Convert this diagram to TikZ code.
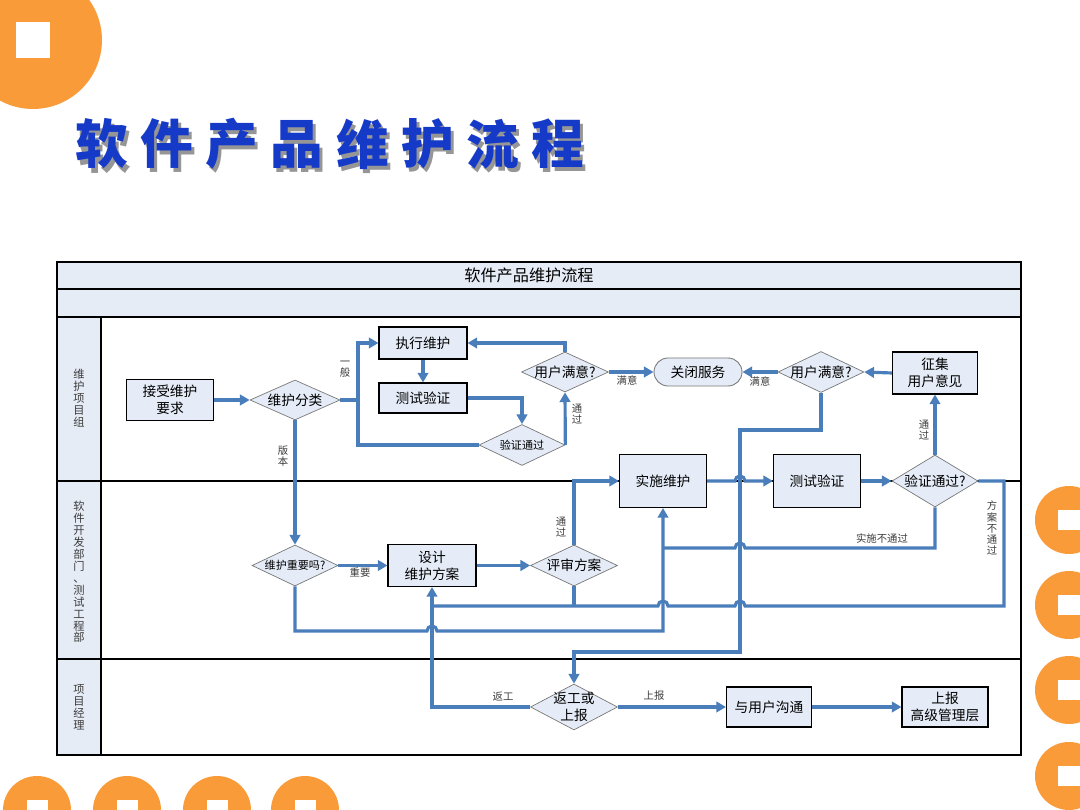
\documentclass[tikz,border=0pt]{standalone}
\usepackage{fontspec}
\setmainfont{Noto Sans CJK SC}
\usetikzlibrary{shapes.geometric,arrows.meta,calc}

\definecolor{lineblue}{RGB}{74,126,187}
\definecolor{boxfill}{RGB}{229,236,247}
\definecolor{hdrfill}{RGB}{230,236,246}
\definecolor{diagray}{RGB}{120,120,120}
\definecolor{deco}{RGB}{249,155,56}
\definecolor{titleblue}{RGB}{22,58,200}
\definecolor{titleshade}{RGB}{150,150,150}
\definecolor{labgray}{RGB}{60,60,60}

\newdimen\px \px=0.02cm

% a title glyph with its grey drop shadow, set as one piece of text
\newcommand\shadowglyph[1]{%
  \makebox[0pt][l]{\hspace*{1.7pt}\raisebox{-2.3pt}{\textcolor{titleshade}{#1}}}%
  \textcolor{titleblue}{#1}}

\tikzset{
  box/.style={draw=black, line width=0.6pt, fill=boxfill, inner sep=0pt, align=center,
    font=\fontsize{7.8}{9.6}\selectfont},
  dia/.style={diamond, draw=diagray, line width=0.4pt, fill=boxfill, inner sep=0pt},
  dtxt/.style={inner sep=0pt, align=center, font=\fontsize{7.8}{9.6}\selectfont},
  dsmall/.style={dtxt, font=\fontsize{6.3}{7.5}\selectfont},
  stadium/.style={draw=diagray, line width=0.5pt, fill=boxfill, rounded corners=0.28cm,
    inner sep=0pt, font=\fontsize{7.8}{9.6}\selectfont},
  flow/.style={draw=lineblue, line width=1.8pt},
  flowa/.style={flow, -{Triangle[length=5.5pt,width=6pt]}},
  lbl/.style={inner sep=0pt, text=labgray, font=\fontsize{5.9}{6.3}\selectfont, align=center},
  lane/.style={inner sep=0pt, text=labgray, font=\fontsize{6.4}{6.8}\selectfont, align=center},
  ttl/.style={inner sep=0pt, font=\fontsize{30}{32}\selectfont\bfseries},
}

\begin{document}
\begin{tikzpicture}[x=0.02cm,y=-0.02cm]
\useasboundingbox (0,0) rectangle (1080,810);

% orange page ornaments
\begin{scope}
  \clip (0,0) rectangle (1080,810);
  \fill[deco] (33,40) circle[radius=1.38cm];
  \fill[white] (16,22) rectangle (50,58);
  \foreach \yy in {520,605,690,776} {
    \fill[deco] (1069,\yy) circle[radius=0.68cm];
    \fill[white] (1058,\yy-10) rectangle (1080,\yy+10);
  }
  \foreach \xx in {37,127,217,305} {
    \fill[deco] (\xx,810) circle[radius=0.68cm];
    \fill[white] (\xx-10.5,800) rectangle (\xx+10.5,810);
  }
\end{scope}

% page title with drop shadow
\foreach \ch [count=\i from 0] in {软,件,产,品,维,护,流,程} {
  \node[ttl] (tt\i) at (102+65.1*\i,146) {\shadowglyph{\ch}};
}

% swim-lane table
\fill[hdrfill] (57,262) rectangle (1021,317);
\fill[hdrfill] (57,317) rectangle (101,755);
\draw[line width=0.6pt] (57,262) rectangle (1021,755);
\draw[line width=0.6pt] (57,289) -- (1021,289);
\draw[line width=0.6pt] (57,317) -- (1021,317);
\draw[line width=0.6pt] (57,481) -- (1021,481);
\draw[line width=0.6pt] (57,659) -- (1021,659);
\draw[line width=0.6pt] (101,317) -- (101,755);
\draw[line width=1.4pt] (57,755) -- (1021,755);

\node[inner sep=0pt, font=\fontsize{9.2}{10}\selectfont] (hdr) at (529,275) {软件产品维护流程};
\node[lane] (lane1) at (79,398) {维\\护\\项\\目\\组};
\node[lane] (lane2) at (79,572) {软\\件\\开\\发\\部\\门\\、\\测\\试\\工\\程\\部};
\node[lane] (lane3) at (79,707) {项\\目\\经\\理};

% lane 1
\node[box, minimum width=87\px, minimum height=41\px] (req) at (170,400) {接受维护\\要求};
\node[dia, minimum width=90\px, minimum height=40\px] (cls) at (295,400) {};
\node[dtxt] (cls-t) at (cls) {维护分类};
\node[box, minimum width=88\px, minimum height=32\px] (exe) at (423,343) {执行维护};
\node[box, minimum width=88\px, minimum height=30\px] (tst1) at (423,398) {测试验证};
\node[dia, minimum width=86\px, minimum height=41\px] (ver1) at (522,445) {};
\node[dsmall] (ver1-t) at (ver1) {验证通过};
\node[dia, minimum width=87\px, minimum height=40\px] (sat1) at (565,372) {};
\node[dtxt] (sat1-t) at (sat1) {用户满意?};
\node[stadium, minimum width=88\px, minimum height=28\px] (close) at (698,372) {关闭服务};
\node[dia, minimum width=86\px, minimum height=41\px] (sat2) at (821,372) {};
\node[dtxt] (sat2-t) at (sat2) {用户满意?};
\node[box, minimum width=85\px, minimum height=42\px] (coll) at (935,373) {征集\\用户意见};

% lane 2
\node[box, minimum width=87\px, minimum height=53\px] (impl) at (663,481) {实施维护};
\node[box, minimum width=87\px, minimum height=53\px] (tst2) at (817,481) {测试验证};
\node[dia, minimum width=86\px, minimum height=52\px] (ver2) at (935,481) {};
\node[dtxt] (ver2-t) at (ver2) {验证通过?};
\node[dia, minimum width=86\px, minimum height=41\px] (imp) at (295,565.5) {};
\node[dsmall] (imp-t) at (imp) {维护重要吗?};
\node[box, minimum width=88\px, minimum height=42\px] (des) at (432,565.5) {设计\\维护方案};
\node[dia, minimum width=87\px, minimum height=41\px] (rev) at (574,565.5) {};
\node[dtxt] (rev-t) at (rev) {评审方案};

% lane 3
\node[dia, minimum width=87\px, minimum height=46\px] (rw) at (574,707) {};
\node[dtxt] (rw-t) at (rw) {返工或\\上报};
\node[box, minimum width=85\px, minimum height=40\px] (comm) at (769,707) {与用户沟通};
\node[box, minimum width=86\px, minimum height=40\px] (rep) at (945,707) {上报\\高级管理层};

% routing points
\coordinate (gx) at (358,400);
\coordinate (va) at (740,430);
\coordinate (vb) at (740,652);
\coordinate (rx) at (1004,481);
\coordinate (yA) at (0,548);
\coordinate (yB) at (0,606);
\coordinate (yC) at (0,631);

% connectors, lane 1
\draw[flowa] (req.east) -- (cls.west);
\draw[flowa] (cls.east) -- (gx) |- (exe.west);
\draw[flow] (gx) |- (ver1.west);
\draw[flowa] (cls.south) -- (imp.north);
\draw[flowa] (exe.south) -- (tst1.north);
\draw[flowa] (tst1.east) -| (ver1.north);
\draw[flowa] (ver1.east) -- (sat1.south);
\draw[flowa] (sat1.north) |- (exe.east);
\draw[flowa] (sat1.east) -- (close.west);
\draw[flowa] (sat2.west) -- (close.east);
\draw[flowa] (coll.west) -- (sat2.east);
\draw[flowa] (ver2.north) -- (coll.south);
\draw[flowa] (sat2.south) |- (va) -- (vb) -| (rw.north);

% connectors, lane 2
\draw[flowa] (impl.east) -- ($(va|-impl.east)+(-5,0)$)
  arc[start angle=180,end angle=0,radius=0.1cm] -- (tst2.west);
\draw[flowa] (tst2.east) -- (ver2.west);
\draw[flowa] (rev.north) |- (impl.west);
\draw[flowa] (imp.east) -- (des.west);
\draw[flowa] (des.east) -- (rev.west);
\draw[flow] (ver2.south) -- (ver2.south|-yA) -- ($(va|-yA)+(5,0)$)
  arc[start angle=0,end angle=180,radius=0.1cm] -- (impl.south|-yA);
\draw[flowa] (imp.south) |- ($(des.south|-yC)+(-5,0)$)
  arc[start angle=180,end angle=0,radius=0.1cm] -| (impl.south);
\draw[flow] (ver2.east) -- (rx) |- ($(va|-yB)+(5,0)$)
  arc[start angle=0,end angle=180,radius=0.1cm] -- ($(impl.south|-yB)+(5,0)$)
  arc[start angle=0,end angle=180,radius=0.1cm] -- (des.south|-yB);
\draw[flow] (rev.south) -- (rev.south|-yB);

% connectors, lane 3
\draw[flowa] (rw.west) -| (des.south);
\draw[flowa] (rw.east) -- (comm.west);
\draw[flowa] (comm.east) -- (rep.west);

% connector labels
\node[lbl] (l-yb) at (345,369) {一\\般};
\node[lbl] (l-bb) at (283,456) {版\\本};
\node[lbl] (l-my1) at (627,380) {满意};
\node[lbl] (l-my2) at (760,381) {满意};
\node[lbl] (l-tg1) at (577,414) {通\\过};
\node[lbl] (l-tg2) at (924,430) {通\\过};
\node[lbl] (l-zy) at (360,573) {重要};
\node[lbl] (l-tg3) at (561,527) {通\\过};
\node[lbl] (l-ss) at (882,539) {实施不通过};
\node[lbl] (l-fa) at (992,528) {方\\案\\不\\通\\过};
\node[lbl] (l-fg) at (503,697) {返工};
\node[lbl] (l-sb) at (654,696) {上报};
\end{tikzpicture}
\end{document}
